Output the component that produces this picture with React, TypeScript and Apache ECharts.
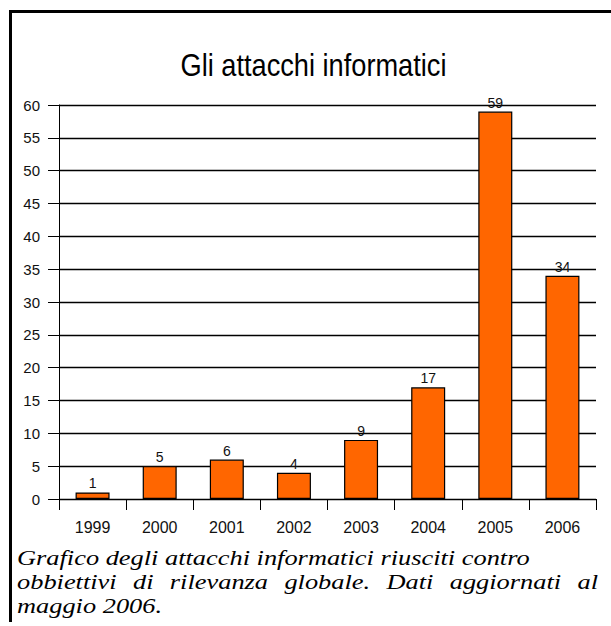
import React, { useEffect, useRef } from "react";
import * as echarts from "echarts";

const categories = ["1999", "2000", "2001", "2002", "2003", "2004", "2005", "2006"];
const attacks = [1, 5, 6, 4, 9, 17, 59, 34];
const titleText = "Gli attacchi informatici";
const captionLines = [
  "Grafico degli attacchi informatici riusciti contro",
  "obbiettivi di rilevanza globale. Dati aggiornati al",
  "maggio 2006.",
];

export default function App() {
  const ref = useRef<HTMLDivElement>(null);
  useEffect(() => {
    if (!ref.current) return;
    const chart = echarts.init(ref.current, null, { renderer: "svg" });
    chart.setOption({
      animation: false,
      textStyle: { fontFamily: "Liberation Sans" },
      graphic: [
        { type: "rect", shape: { x: 9, y: 10, width: 602, height: 3 }, style: { fill: "#000" } },
        { type: "rect", shape: { x: 9, y: 10, width: 3, height: 612 }, style: { fill: "#000" } },
        {
          type: "text",
          x: 313.5,
          y: 65,
          scaleX: 0.85,
          style: {
            text: titleText,
            fontSize: 32,
            fontFamily: "Liberation Sans",
            fill: "#000",
            align: "center",
            verticalAlign: "middle",
          },
        },
      ],
      grid: { left: 59, right: 15, top: 105, bottom: 127, containLabel: false },
      xAxis: {
        type: "category",
        data: categories,
        boundaryGap: true,
        axisLine: { show: true, lineStyle: { color: "#000", width: 1 } },
        axisTick: { show: true, length: 11, alignWithLabel: false, lineStyle: { color: "#000" } },
        axisLabel: { color: "#111", fontSize: 16, margin: 20, fontFamily: "Liberation Sans" },
        splitLine: { show: false },
      },
      yAxis: {
        type: "value",
        min: 0,
        max: 60,
        interval: 5,
        axisLine: { show: true, lineStyle: { color: "#000", width: 1 } },
        axisTick: { show: true, length: 11, lineStyle: { color: "#000" } },
        axisLabel: { color: "#111", fontSize: 15, margin: 19, fontFamily: "Liberation Sans" },
        splitLine: { show: true, lineStyle: { color: "#000", width: 1.3 } },
      },
      series: [
        {
          type: "bar",
          data: attacks,
          barWidth: 34,
          itemStyle: { color: "#FF6600", borderColor: "#000", borderWidth: 1.2 },
          label: { show: true, position: "top", distance: 2, color: "#111", fontSize: 14, fontFamily: "Liberation Sans" },
        },
      ],
    });
    return () => chart.dispose();
  }, []);

  const captionStyle: React.CSSProperties = {
    fontFamily: "'Liberation Serif', serif",
    fontStyle: "italic",
    fontSize: 21.5,
    lineHeight: "24px",
    color: "#000",
    whiteSpace: "nowrap",
  };

  return (
    <div style={{ position: "absolute", left: 0, top: 0, width: 611, height: 626, overflow: "hidden", background: "#fff" }}>
      <div ref={ref} style={{ position: "absolute", left: 0, top: 0, width: 611, height: 626 }} />
      <div style={{ position: "absolute", left: 17, top: 546, width: 473.5, transform: "scaleX(1.227)", transformOrigin: "0 0" }}>
        <div style={captionStyle}>{captionLines[0]}</div>
        <div style={{ ...captionStyle, whiteSpace: "normal", textAlign: "justify", textAlignLast: "justify" }}>{captionLines[1]}</div>
        <div style={captionStyle}>{captionLines[2]}</div>
      </div>
    </div>
  );
}
